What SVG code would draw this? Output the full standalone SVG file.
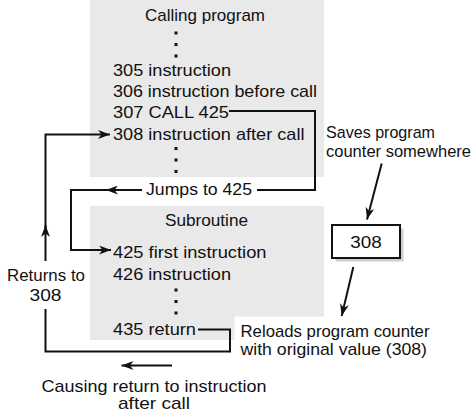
<svg xmlns="http://www.w3.org/2000/svg" width="472" height="411" viewBox="0 0 472 411">
<defs>
<style>
text{font-family:"Liberation Sans",Arial,sans-serif;font-size:17px;fill:#111}
.c{text-anchor:middle}
.panel{fill:#e9e9e9}
.ln{fill:none;stroke:#111;stroke-width:2}
.arr{fill:none;stroke:#111;stroke-width:2;marker-end:url(#ah)}
.dot{fill:#111}
</style>
<marker id="ah" markerUnits="userSpaceOnUse" markerWidth="13" markerHeight="9" refX="12" refY="4.5" orient="auto">
<path d="M0,0 L12,4.5 L0,9 L3.5,4.5 z" fill="#111"/>
</marker>
</defs>
<rect width="472" height="411" fill="#fff"/>

<g id="calling-program">
<rect class="panel" x="90" y="0" width="234" height="177"/>
<text class="c" x="205" y="21" textLength="120" lengthAdjust="spacingAndGlyphs">Calling program</text>
<rect class="dot" x="174.5" y="31.5" width="3" height="3"/>
<rect class="dot" x="174.5" y="43" width="3" height="3"/>
<rect class="dot" x="174.5" y="54.5" width="3" height="3"/>
<text x="113" y="76" textLength="118" lengthAdjust="spacingAndGlyphs">305 instruction</text>
<text x="113" y="97" textLength="204" lengthAdjust="spacingAndGlyphs">306 instruction before call</text>
<text x="113" y="118" textLength="116" lengthAdjust="spacingAndGlyphs">307 CALL 425</text>
<text x="113" y="140" textLength="191.5" lengthAdjust="spacingAndGlyphs">308 instruction after call</text>
<rect class="dot" x="174.5" y="147" width="3" height="3"/>
<rect class="dot" x="174.5" y="158.5" width="3" height="3"/>
<rect class="dot" x="174.5" y="170" width="3" height="3"/>
</g>

<g id="subroutine">
<polygon class="panel" points="90,206 324,206 324,316.5 234.5,316.5 234.5,340 90,340"/>
<text class="c" x="206.5" y="226" textLength="83" lengthAdjust="spacingAndGlyphs">Subroutine</text>
<text x="113" y="258" textLength="153.5" lengthAdjust="spacingAndGlyphs">425 first instruction</text>
<text x="113" y="280" textLength="118" lengthAdjust="spacingAndGlyphs">426 instruction</text>
<rect class="dot" x="174.5" y="288.5" width="3" height="3"/>
<rect class="dot" x="174.5" y="300" width="3" height="3"/>
<rect class="dot" x="174.5" y="311.5" width="3" height="3"/>
<text x="113" y="335" textLength="83" lengthAdjust="spacingAndGlyphs">435 return</text>
</g>

<g id="saved-pc">
<rect x="335.5" y="228.5" width="68" height="33" fill="#cfcfcf"/>
<rect x="332" y="225" width="68" height="33" fill="#fff" stroke="#111" stroke-width="2"/>
<text class="c" x="366" y="248" textLength="31.5" lengthAdjust="spacingAndGlyphs">308</text>
</g>

<g id="labels">
<text class="c" x="199" y="195" textLength="106" lengthAdjust="spacingAndGlyphs">Jumps to 425</text>
<text x="326" y="138" textLength="109" lengthAdjust="spacingAndGlyphs">Saves program</text>
<text x="326" y="157" textLength="145" lengthAdjust="spacingAndGlyphs">counter somewhere</text>
<text class="c" x="46" y="280.5" textLength="78" lengthAdjust="spacingAndGlyphs">Returns to</text>
<text class="c" x="45.5" y="300.5" textLength="32" lengthAdjust="spacingAndGlyphs">308</text>
<text x="240.5" y="336.5" textLength="189" lengthAdjust="spacingAndGlyphs">Reloads program counter</text>
<text x="240.5" y="355" textLength="186.5" lengthAdjust="spacingAndGlyphs">with original value (308)</text>
<text class="c" x="154" y="392" textLength="225" lengthAdjust="spacingAndGlyphs">Causing return to instruction</text>
<text class="c" x="154" y="409" textLength="72" lengthAdjust="spacingAndGlyphs">after call</text>
</g>

<g id="connectors">
<path class="ln" d="M229,111 H315 V190 H257"/>
<path class="arr" d="M142,190 H106"/>
<path class="arr" d="M108,190 H71 V250 H111"/>
<path class="ln" d="M198,329.5 H230 V351.5 H45.5 V309"/>
<path class="arr" d="M45.5,261 V225"/>
<path class="arr" d="M45.5,228 V134.5 H110"/>
<path class="arr" d="M172,365.5 H121.5"/>
<path class="arr" d="M381.7,163.5 L367,219.5"/>
<path class="arr" d="M353.3,267 L341.7,316"/>
</g>
</svg>
